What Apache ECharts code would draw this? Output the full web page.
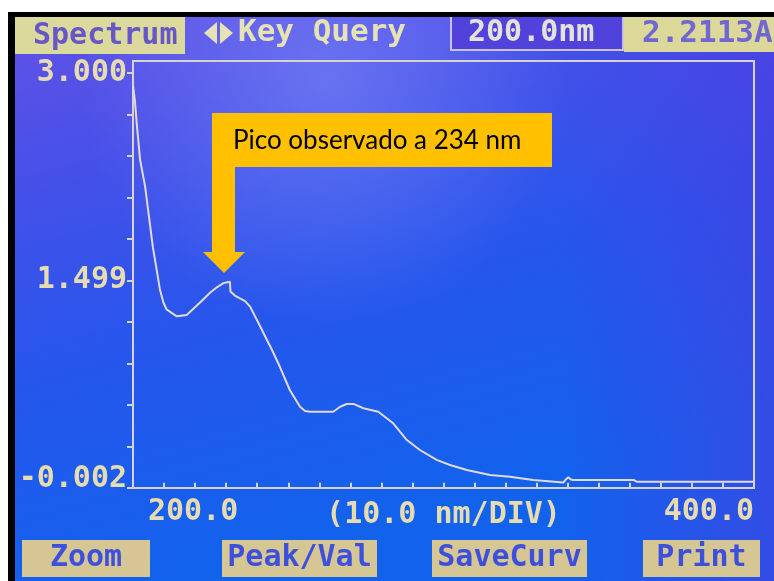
<!DOCTYPE html>
<html>
<head>
<meta charset="utf-8">
<script src="https://cdn.jsdelivr.net/npm/echarts@6/dist/echarts.min.js"></script>
<style>html,body{margin:0;padding:0;background:#fff}#chart{width:774px;height:581px}</style>
</head>
<body>
<div id="chart"></div>
<script>
// ---- data ----
const wavelength = [200.0, 200.6, 201.3, 202.3, 203.9, 205.2, 206.4, 207.6, 208.7, 209.8, 210.8, 214.1, 217.3, 221.6, 224.8, 227.0, 229.1, 231.2, 231.4, 232.8, 236.1, 237.7, 240.9, 243.1, 244.7, 247.3, 250.5, 253.8, 255.4, 257.0, 264.5, 266.7, 268.8, 271.0, 274.2, 279.0, 283.8, 288.2, 292.4, 297.8, 302.1, 307.5, 315.0, 321.4, 328.9, 338.6, 339.4, 340.2, 341.0, 341.8, 361.2, 362.2, 400.0];
const absorbance = [2.91, 2.80, 2.61, 2.37, 2.18, 1.95, 1.74, 1.58, 1.43, 1.34, 1.29, 1.24, 1.25, 1.34, 1.41, 1.45, 1.48, 1.49, 1.42, 1.39, 1.35, 1.31, 1.17, 1.07, 1.00, 0.875, 0.707, 0.586, 0.555, 0.550, 0.550, 0.586, 0.606, 0.606, 0.575, 0.550, 0.466, 0.345, 0.273, 0.201, 0.164, 0.128, 0.092, 0.080, 0.056, 0.037, 0.060, 0.075, 0.060, 0.056, 0.056, 0.044, 0.044];
const yTickValues = [-0.002, 0.2982, 0.5984, 0.8986, 1.1988, 1.499, 1.7992, 2.0994, 2.3996, 2.6998, 3.000];
const yLabelValues = [-0.002, 1.499, 3.000];
const xLabelValues = [200, 400];
const xAxisName = '(10.0 nm/DIV)';
const headerTitle = 'Spectrum';
const headerMode = 'Key Query';
const headerWave = '200.0nm';
const headerAbs = '2.2113A';
const buttons = ['Zoom', 'Peak/Val', 'SaveCurv', 'Print'];
const annotationText = 'Pico observado a 234 nm';

// ---- styles ----
const MONO = '"DejaVu Sans Mono", monospace';
const PALE = '#e6dcb0';
const LINE = '#d9d2cc';
const BTN_FILL = '#d6c694';
const BTN_TEXT = '#3d50dc';

const chart = echarts.init(document.getElementById('chart'), null, {renderer: 'canvas'});

const btnBoxes = [[22, 128], [222, 155], [432, 155], [643, 117]];
const buttonGraphics = [];
buttons.forEach((b, i) => {
  const [bx, bw] = btnBoxes[i];
  buttonGraphics.push({type: 'rect', shape: {x: bx, y: 540, width: bw, height: 37}, style: {fill: BTN_FILL}, z: 10});
  buttonGraphics.push({type: 'text', x: bx + bw / 2, y: 558, style: {text: b, fill: BTN_TEXT, font: 'bold 30px ' + MONO, textAlign: 'center', textVerticalAlign: 'middle'}, z: 11});
});

const option = {
  animation: false,
  backgroundColor: {
    type: 'linear', x: 0, y: 0, x2: 0.2, y2: 1,
    colorStops: [
      {offset: 0, color: '#6652e6'},
      {offset: 0.3, color: '#4650e8'},
      {offset: 0.62, color: '#2656ec'},
      {offset: 1, color: '#1262ec'}
    ]
  },
  grid: {left: 133, right: 20, top: 61, bottom: 93, show: true, borderColor: LINE, borderWidth: 2, backgroundColor: 'transparent'},
  xAxis: {
    type: 'value', min: 200, max: 400, interval: 10,
    axisLine: {show: true, lineStyle: {color: LINE, width: 2}},
    axisTick: {show: true, inside: true, length: 5, lineStyle: {color: LINE, width: 2}},
    splitLine: {show: false},
    axisLabel: {
      customValues: xLabelValues,
      formatter: v => v.toFixed(1),
      color: PALE, fontFamily: MONO, fontWeight: 'bold', fontSize: 30, margin: 9,
      alignMinLabel: 'left', alignMaxLabel: 'right',
      padding: [0, 0, 0, 15]
    },
    name: xAxisName, nameLocation: 'middle', nameGap: 12, nameMoveOverlap: false,
    nameTextStyle: {color: PALE, fontFamily: MONO, fontWeight: 'bold', fontSize: 30, verticalAlign: 'top'}
  },
  yAxis: {
    type: 'value', min: -0.002, max: 3.087,
    axisLine: {show: true, lineStyle: {color: LINE, width: 2}},
    axisTick: {show: true, inside: false, length: 6, customValues: yTickValues, lineStyle: {color: LINE, width: 2}},
    splitLine: {show: false},
    axisLabel: {
      customValues: yLabelValues,
      formatter: v => v.toFixed(3),
      color: PALE, fontFamily: MONO, fontWeight: 'bold', fontSize: 30, margin: 6,
      verticalAlignMinLabel: 'bottom', lineHeight: 18
    }
  },
  series: [{
    type: 'line',
    data: wavelength.map((w, i) => [w, absorbance[i]]),
    showSymbol: false,
    lineStyle: {color: '#e2dad4', width: 2},
    clip: true,
    z: 5
  }],
  graphic: [
    // screen glare and purple right edge
    {type: 'rect', shape: {x: 0, y: 0, width: 774, height: 581}, silent: true, z: -5,
      style: {fill: {type: 'radial', x: 0.42, y: 0.14, r: 0.42, colorStops: [
        {offset: 0, color: 'rgba(150,165,255,0.40)'}, {offset: 1, color: 'rgba(150,165,255,0)'}]}}},
    {type: 'rect', shape: {x: 560, y: 0, width: 214, height: 581}, silent: true, z: -5,
      style: {fill: {type: 'linear', x: 0, y: 0, x2: 1, y2: 0, colorStops: [
        {offset: 0, color: 'rgba(90,50,220,0)'}, {offset: 1, color: 'rgba(90,50,220,0.45)'}]}}},
    // photo borders
    {type: 'rect', shape: {x: 0, y: 0, width: 774, height: 12}, style: {fill: '#ffffff'}, z: 20},
    {type: 'rect', shape: {x: 0, y: 12, width: 774, height: 5}, style: {fill: '#000000'}, z: 20},
    {type: 'rect', shape: {x: 0, y: 0, width: 8, height: 581}, style: {fill: '#ffffff'}, z: 20},
    {type: 'rect', shape: {x: 8, y: 12, width: 7, height: 569}, style: {fill: '#000000'}, z: 20},
    // header
    {type: 'rect', shape: {x: 15, y: 17, width: 170, height: 37}, style: {fill: '#dcd99c'}, z: 10},
    {type: 'text', x: 33, y: 36, style: {text: headerTitle, fill: '#6656c8', font: 'bold 30px ' + MONO, textVerticalAlign: 'middle'}, z: 11},
    {type: 'polygon', shape: {points: [[204, 33], [217, 22], [217, 44]]}, style: {fill: '#e6e2b4'}, z: 11},
    {type: 'polygon', shape: {points: [[220, 22], [220, 44], [233, 33]]}, style: {fill: '#e6e2b4'}, z: 11},
    {type: 'text', x: 238, y: 33, style: {text: headerMode, fill: '#e6e2b4', font: 'bold 31px ' + MONO, textVerticalAlign: 'middle'}, z: 11},
    {type: 'rect', shape: {x: 451, y: 16, width: 172, height: 34}, style: {fill: '#5242dc', stroke: '#c8c2dc', lineWidth: 2}, z: 10},
    {type: 'text', x: 468, y: 33, style: {text: headerWave, fill: '#e4e2d6', font: 'bold 30px ' + MONO, textVerticalAlign: 'middle'}, z: 11},
    {type: 'rect', shape: {x: 624, y: 17, width: 150, height: 35}, style: {fill: '#dcd89a'}, z: 10},
    {type: 'text', x: 642, y: 34, style: {text: headerAbs, fill: '#7068d0', font: 'bold 31px ' + MONO, textVerticalAlign: 'middle'}, z: 11},
    ...buttonGraphics,
    // annotation
    {type: 'rect', shape: {x: 212, y: 113, width: 340, height: 54}, style: {fill: '#ffc000'}, z: 12},
    {type: 'text', x: 233, y: 141, style: {text: annotationText, fill: '#000000', font: '26px Lato, "Open Sans", sans-serif', textVerticalAlign: 'middle'}, z: 13},
    {type: 'polygon', shape: {points: [[212, 166], [235, 166], [235, 252], [245, 252], [224, 273], [203, 252], [212, 252]]}, style: {fill: '#ffc000'}, z: 12}
  ]
};
chart.setOption(option);
</script>
</body>
</html>
